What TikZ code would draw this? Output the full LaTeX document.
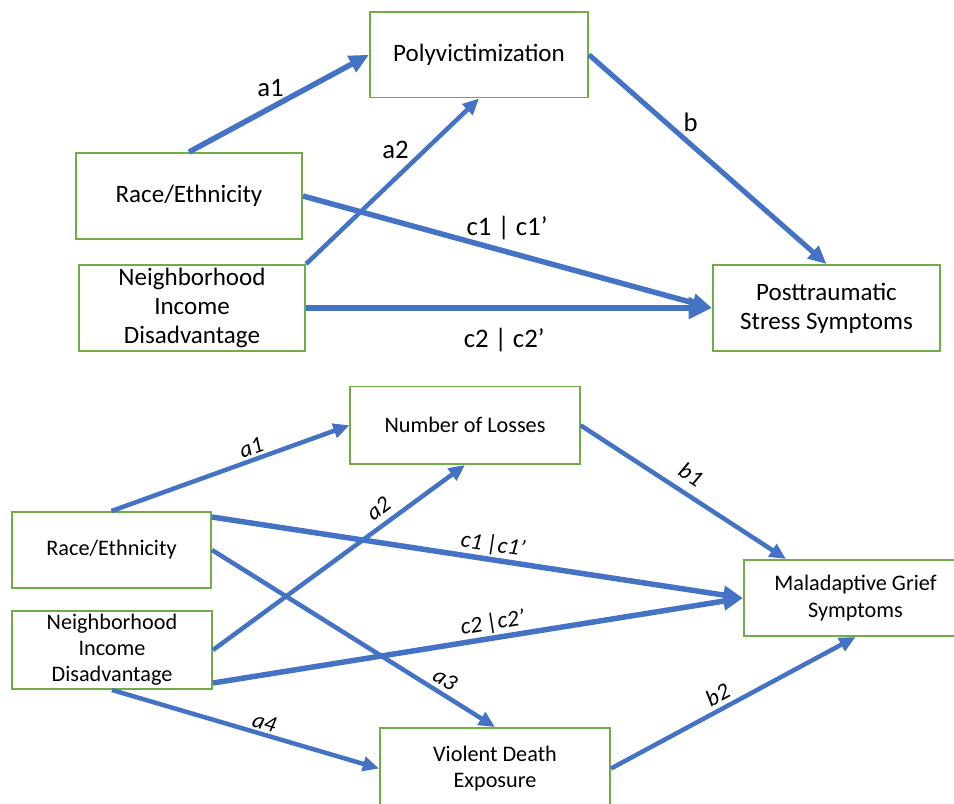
\documentclass[tikz,border=0pt]{standalone}
\usepackage{fontspec}
\setmainfont{Carlito}
\usepackage{xcolor}
\usepackage{tikz}
\usetikzlibrary{arrows.meta, calc, positioning}
\definecolor{pathblue}{RGB}{68,114,196}
\definecolor{boxgreen}{RGB}{112,173,71}

\begin{document}
\begin{tikzpicture}[x=0.025cm, y=-0.025cm,
		varnode/.style={draw=boxgreen, line width=1.4pt, align=center, inner sep=0pt},
		bigtext/.style={font=\fontsize{17.8}{20.6}\selectfont},
		smalltext/.style={font=\fontsize{15.8}{18.6}\selectfont},
		effect/.style={draw=pathblue, line width=#1, -{Triangle[length=0pt 3.6, width=0pt 3.2]}},
		effect/.default=3.2pt,
		coef/.style={font=\fontsize{19}{21}\selectfont, inner sep=0pt},
		coefit/.style={font=\fontsize{16.5}{18}\selectfont\itshape, inner sep=0pt, sloped}]
		\useasboundingbox (0,0) rectangle (954,803);
		\clip (0,0) rectangle (954,803);
		% model 1: polyvictimization
		\node[varnode, bigtext, minimum width=5.45cm, minimum height=2.1375cm] (poly) at (479,54.75) {Polyvictimization};
		\node[varnode, bigtext, minimum width=5.65cm, minimum height=2.15cm] (race) at (189,196) {Race/Ethnicity};
		\node[varnode, bigtext, minimum width=5.65cm, minimum height=2.15cm] (neigh) at (192,308) {Neighborhood\\Income\\Disadvantage};
		\node[varnode, bigtext, minimum width=5.675cm, minimum height=2.15cm] (post) at (826.5,308) {Posttraumatic\\Stress Symptoms};
		\draw[effect=3.9pt] (race.north) -- node[coef, pos=0.498, shift={(-8.2,-15.1)}] {a1} (poly.west);
		\draw[effect=3.2pt] (neigh.north east) -- node[coef, pos=0.6, shift={(-14.2,-14.7)}] {a2} (poly.south);
		\draw[effect=3.6pt] (poly.east) -- node[coef, pos=0.383, shift={(10.7,-12.2)}] {b} (post.north);
		\draw[effect=3.9pt] (race.east) -- node[coef, pos=0.484, shift={(6.1,-22.2)}] {c1 | c1'} (post.west);
		\draw[effect=4.6pt] (neigh.east) -- node[coef, pos=0.488, shift={(0,32)}] {c2 | c2'} (post.west);
		% model 2: losses and violent death
		\node[varnode, smalltext, minimum width=5.725cm, minimum height=1.9375cm] (loss) at (465,425.25) {Number of Losses};
		\node[varnode, smalltext, minimum width=4.975cm, minimum height=1.9cm] (race2) at (111.5,550) {Race/Ethnicity};
		\node[varnode, smalltext, minimum width=5cm, minimum height=1.95cm] (neigh2) at (112,650) {Neighborhood\\Income\\Disadvantage};
		\node[varnode, smalltext, minimum width=5.575cm, minimum height=1.9cm] (mal) at (855.5,598) {Maladaptive Grief\\Symptoms};
		\node[varnode, smalltext, minimum width=5.75cm, minimum height=2.025cm] (viol) at (495,768.5) {Violent Death\\Exposure};
		\draw[effect] (race2.north) -- node[coefit, pos=0.605, yshift=9pt] {a1} (loss.west);
		\draw[effect] (neigh2.east) -- node[coefit, pos=0.694, yshift=11.4pt] {a2} (loss.south);
		\draw[effect] (loss.east) -- node[coefit, pos=0.4875, yshift=13.5pt] {b1} ($(mal.north west)+(43,0)$);
		\draw[effect=3.9pt] ($(race2.north east)+(0,6)$) -- node[coefit, pos=0.525, yshift=10.3pt] {c1 |c1'} (mal.west);
		\draw[effect=3.9pt] ($(neigh2.south east)+(0,-7)$) -- node[coefit, pos=0.532, yshift=10.6pt] {c2 |c2'} (mal.west);
		\draw[effect] (race2.east) -- node[coefit, pos=0.798, yshift=10.1pt] {a3} (viol.north);
		\draw[effect] (neigh2.south) -- node[coefit, pos=0.559, yshift=8.2pt] {a4} (viol.west);
		\draw[effect] (viol.east) -- node[coefit, pos=0.464, yshift=10.5pt] {b2} (mal.south);
\end{tikzpicture}
\end{document}
